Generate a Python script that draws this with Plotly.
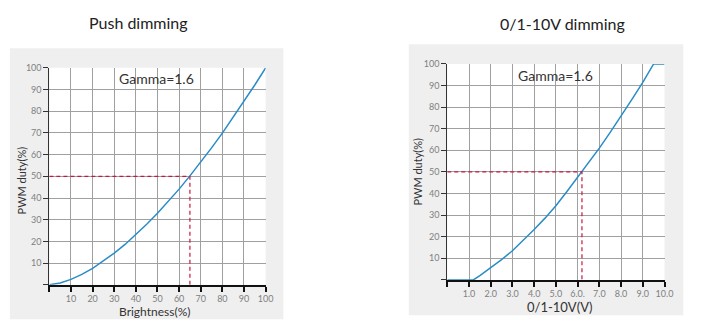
import plotly.graph_objects as go

# ---- data ----
push_x = [0, 5, 10, 15, 20, 25, 30, 35, 40, 45, 50, 55, 60, 65, 70, 75, 80, 85, 90, 95, 100]
push_y = [0, 0.8, 2.5, 4.8, 7.6, 10.9, 14.6, 18.6, 23.1, 27.9, 33.0, 38.4, 44.1, 50.2, 56.5, 63.1, 69.9, 77.1, 84.5, 92.1, 100]

volt_x = [0, 1.2, 1.5, 2.0, 2.5, 3.0, 3.5, 4.0, 4.5, 5.0, 5.5, 6.0, 6.2, 6.5, 7.0, 7.5, 8.0, 8.5, 9.0, 9.5, 10.0]
volt_y = [0, 0, 2.0, 5.6, 9.4, 13.5, 18.2, 23.3, 28.6, 34.3, 40.8, 47.5, 50, 54.2, 61, 68.3, 75.8, 83.6, 91.5, 100, 100]

push_ref = (65, 50)
volt_ref = (6.2, 50)

y_ticks = [0, 10, 20, 30, 40, 50, 60, 70, 80, 90, 100]
y_text = [""] + [str(v) for v in y_ticks[1:]]
push_ticks = [0, 10, 20, 30, 40, 50, 60, 70, 80, 90, 100]
push_text = [""] + [str(v) for v in push_ticks[1:]]
volt_ticks = [0, 1, 2, 3, 4, 5, 6, 7, 8, 9, 10]
volt_text = ["", "1.0", "2.0", "3.0", "4.0", "5.0", "6.0.", "7.0", "8.0", "9.0", "10.0"]

W, H = 713, 328
def px(x): return x / W
def py(y): return 1 - y / H

BLUE = "#2a8cc6"
RED = "#c4183c"
GRID = "#a0a0a0"
FONT = "Lato, 'Open Sans', sans-serif"

fig = go.Figure()
fig.add_trace(go.Scatter(x=push_x, y=push_y, mode="lines", line=dict(color=BLUE, width=1.5),
                         xaxis="x", yaxis="y", showlegend=False, hoverinfo="skip"))
fig.add_trace(go.Scatter(x=[0, push_ref[0], push_ref[0]], y=[push_ref[1], push_ref[1], 0], mode="lines",
                         line=dict(color=RED, width=1.2, dash="4px,3px"),
                         xaxis="x", yaxis="y", showlegend=False, hoverinfo="skip"))
fig.add_trace(go.Scatter(x=volt_x, y=volt_y, mode="lines", line=dict(color=BLUE, width=1.5),
                         xaxis="x2", yaxis="y2", showlegend=False, hoverinfo="skip"))
fig.add_trace(go.Scatter(x=[0, volt_ref[0], volt_ref[0]], y=[volt_ref[1], volt_ref[1], 0], mode="lines",
                         line=dict(color=RED, width=1.2, dash="4px,3px"),
                         xaxis="x2", yaxis="y2", showlegend=False, hoverinfo="skip"))

tickfont = dict(family=FONT, size=9, color="#808080")
def xax(domain, tv, tt, rng, anchor):
    return dict(domain=domain, range=rng, tickmode="array", tickvals=tv, ticktext=tt,
                showgrid=True, gridcolor=GRID, gridwidth=1, zeroline=False,
                showline=True, linecolor="#111", linewidth=1.5,
                ticks="outside", ticklen=5, tickwidth=2, tickcolor="#111",
                tickfont=tickfont, anchor=anchor, fixedrange=True)
def yax(domain, anchor):
    return dict(domain=domain, range=[0, 100], tickmode="array", tickvals=y_ticks, ticktext=y_text,
                showgrid=True, gridcolor=GRID, gridwidth=1, zeroline=False,
                showline=True, linecolor="#333", linewidth=1,
                ticks="outside", ticklen=5, tickwidth=1, tickcolor="#333",
                tickfont=tickfont, anchor=anchor, fixedrange=True)

L = dict(x0=50, x1=269, y0=63, y1=284)
R = dict(x0=453, x1=673, y0=59, y1=279)

fig.update_layout(
    width=W, height=H, margin=dict(l=0, r=0, t=0, b=0),
    paper_bgcolor="white", plot_bgcolor="white",
    xaxis=xax([px(L["x0"]), px(L["x1"])], push_ticks, push_text, [0, 100], "y"),
    yaxis=yax([py(L["y1"]), py(L["y0"])], "x"),
    xaxis2=xax([px(R["x0"]), px(R["x1"])], volt_ticks, volt_text, [0, 10], "y2"),
    yaxis2=yax([py(R["y1"]), py(R["y0"])], "x2"),
    shapes=[
        dict(type="rect", xref="paper", yref="paper", x0=px(10), x1=px(287), y0=py(319), y1=py(43),
             fillcolor="#efefef", line=dict(width=0), layer="below"),
        dict(type="rect", xref="paper", yref="paper", x0=px(414), x1=px(692), y0=py(315), y1=py(39),
             fillcolor="#efefef", line=dict(width=0), layer="below"),
        dict(type="rect", xref="x domain", yref="y domain", x0=0, x1=1, y0=0, y1=1,
             fillcolor="white", line=dict(width=0), layer="below"),
        dict(type="rect", xref="x2 domain", yref="y2 domain", x0=0, x1=1, y0=0, y1=1,
             fillcolor="white", line=dict(width=0), layer="below"),
    ],
)

def ann(text, x, y, size, color="#333", angle=0):
    fig.add_annotation(text=text, x=px(x), y=py(y), xref="paper", yref="paper",
                       showarrow=False, xanchor="center", yanchor="middle", textangle=angle,
                       font=dict(family=FONT, size=size, color=color))

ann("Push dimming", 140, 17, 16, color="#222")
ann("0/1-10V dimming", 570, 18, 16, color="#222")
ann("Gamma=1.6", 159, 74, 14)
ann("Gamma=1.6", 563, 71, 14)
ann("Brightness(%)", 156, 311, 12)
ann("0/1-10V(V)", 567, 307, 13)
ann("PWM duty(%)", 22, 178, 11, angle=-90)
ann("PWM duty(%)", 423, 169, 11, angle=-90)

fig.write_html("out.html")
